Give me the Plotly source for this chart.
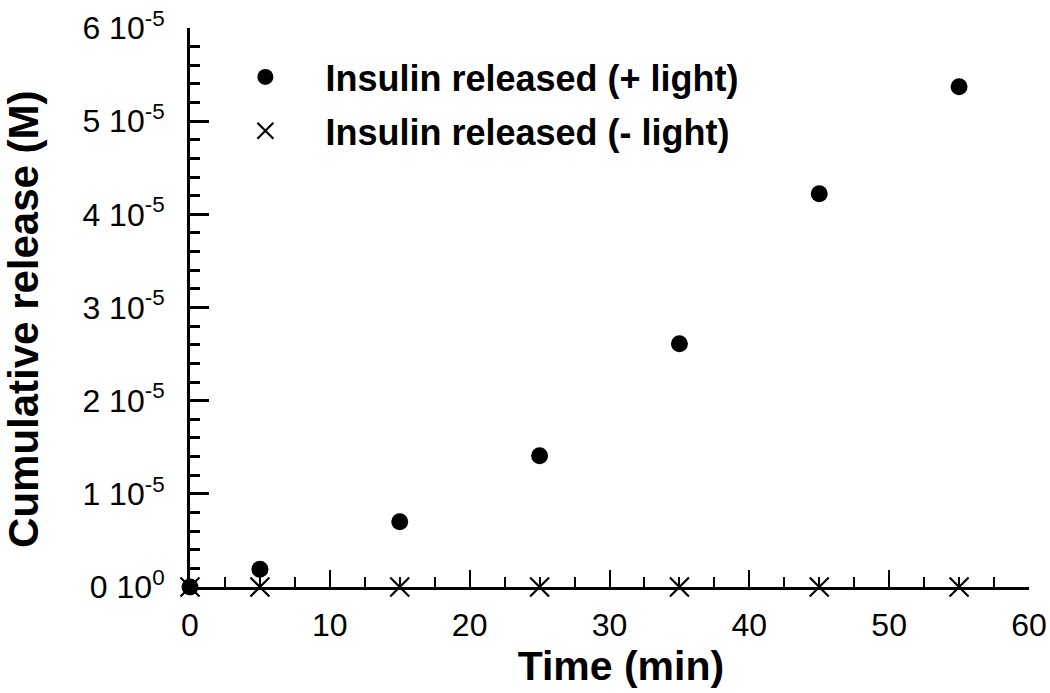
import plotly.graph_objects as go

time_min = [0, 5, 15, 25, 35, 45, 55]
release_light = [0, 1.9e-6, 7.0e-6, 1.41e-5, 2.61e-5, 4.22e-5, 5.37e-5]
release_dark = [0, 0, 0, 0, 0, 0, 0]

y_tickvals = [0, 1e-5, 2e-5, 3e-5, 4e-5, 5e-5, 6e-5]
y_ticktext = ["0 10<sup>0</sup>", "1 10<sup>-5</sup>", "2 10<sup>-5</sup>", "3 10<sup>-5</sup>",
              "4 10<sup>-5</sup>", "5 10<sup>-5</sup>", "6 10<sup>-5</sup>"]
x_tickvals = [0, 10, 20, 30, 40, 50, 60]

FONT = "Liberation Sans, Arial, Helvetica, sans-serif"
SP = "&nbsp;&nbsp;&nbsp;&nbsp;"

fig = go.Figure()
fig.add_trace(go.Scatter(
    x=time_min, y=release_light, mode="markers", name=SP + "<b>Insulin released (+ light)</b>",
    legendgroup="a",
    marker=dict(symbol="circle", size=17, color="black"), cliponaxis=False))
fig.add_trace(go.Scatter(
    x=time_min, y=release_dark, mode="markers", name=SP + "<b>Insulin released (- light)</b>",
    legendgroup="b",
    marker=dict(symbol="x-thin", size=19, color="black", line=dict(width=2.2, color="black")),
    cliponaxis=False))

fig.update_layout(
    width=1050, height=693,
    paper_bgcolor="white", plot_bgcolor="white",
    margin=dict(l=190, r=21, t=28, b=106),
    font=dict(family=FONT, color="black", size=32),
    showlegend=True,
    legend=dict(x=0.066, y=0.966, xanchor="left", yanchor="top",
                font=dict(family=FONT, size=36, color="black"),
                tracegroupgap=4, bgcolor="rgba(0,0,0,0)"),
    xaxis=dict(range=[0, 60], tickvals=x_tickvals, ticks="inside", ticklen=17, tickwidth=2,
               tickcolor="black", showline=True, linecolor="black", linewidth=2.5,
               showgrid=False, zeroline=False, tickfont=dict(size=32), automargin=False,
               ticklabelstandoff=8, ticklabeloverflow="allow",
               minor=dict(ticks="inside", ticklen=10, tickwidth=2, tickcolor="black", dtick=2.5, showgrid=False),
               title=dict(text="&nbsp;&nbsp;<b>Time (min)</b>", font=dict(size=41), standoff=4)),
    yaxis=dict(range=[0, 6e-5], tickvals=y_tickvals, ticktext=y_ticktext, ticks="inside",
               ticklen=19, tickwidth=2.5, tickcolor="black", showline=True, linecolor="black",
               linewidth=3, showgrid=False, zeroline=False, tickfont=dict(size=32),
               ticklabelstandoff=16, automargin=False, ticklabeloverflow="allow",
               minor=dict(ticks="inside", ticklen=10, tickwidth=2.5, tickcolor="black", dtick=2e-6, showgrid=False),
               title=dict(text="<b>Cumulative release (M)</b>&nbsp;&nbsp;", font=dict(size=42), standoff=46)),
)

fig.write_html("out.html", config={"displayModeBar": False},
               post_script="document.body.style.margin='0';document.body.style.overflow='hidden';")
